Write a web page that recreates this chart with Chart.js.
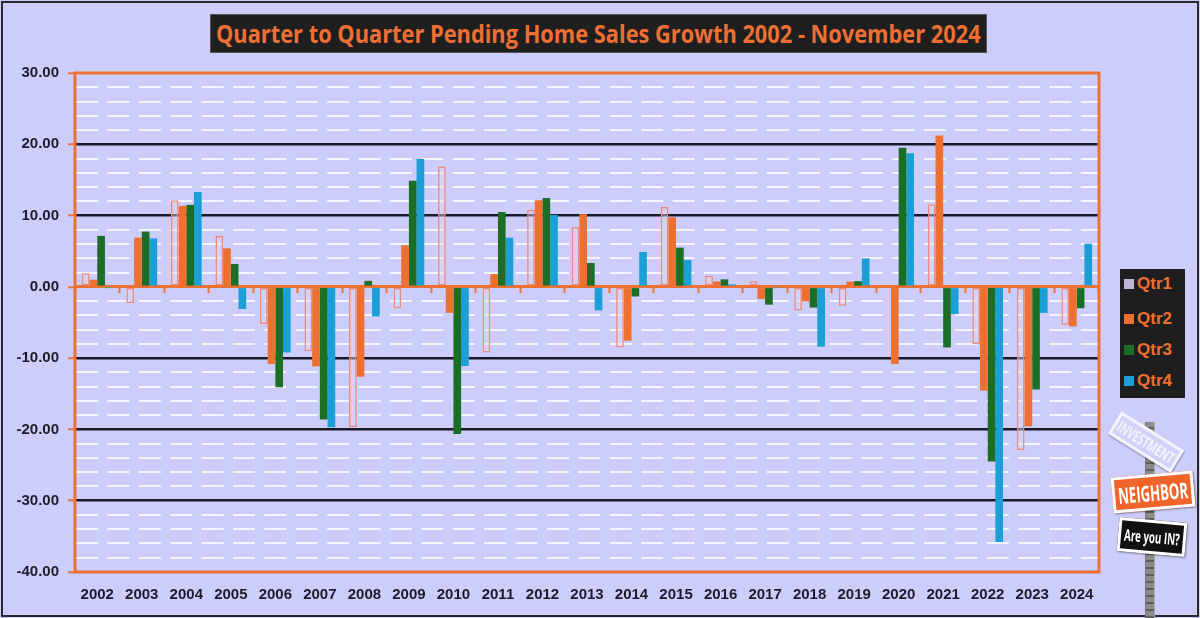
<!DOCTYPE html>
<html>
<head>
<meta charset="utf-8">
<script src="https://cdn.jsdelivr.net/npm/chart.js@4.4.1/dist/chart.umd.min.js"></script>
<style>
  html, body { margin:0; padding:0; }
  body { width:1200px; height:618px; background:#cdcdfb; position:relative; overflow:hidden; font-family: Arial, "Liberation Sans", sans-serif; }
  #frame { position:absolute; left:1px; top:1px; width:1194px; height:612px; border:2px solid #2a2a2a; }
  #wrap { position:absolute; left:0; top:0; width:1200px; height:618px; }
  #title { position:absolute; left:210px; top:14px; width:775px; height:37px; background:#1f1f1f; border:1px solid #555;
           color:#ee6f34; font-family:"Open Sans",Roboto,sans-serif; font-weight:bold;
           font-size:25px; line-height:37px; white-space:nowrap; overflow:hidden; }
  #title span { display:inline-block; transform-origin:0 50%; position:absolute; left:5px; top:0; }
  #legend { position:absolute; left:1120px; top:269px; width:65px; height:129px; background:#1e1e1e; }
  .li { position:absolute; left:4px; height:20px; display:flex; align-items:center; color:#ee6f34; font-weight:bold; font-size:17px; }
  .sq { width:10px; height:10px; margin-right:3px; display:inline-block; }
  #logo { position:absolute; left:1105px; top:410px; width:95px; height:208px; }
  .pole { position:absolute; left:40px; top:12px; width:8px; height:200px; background:repeating-linear-gradient(#8c8c8c 0 5px, #5e5e5e 5px 7px); border-left:1px solid #777; border-right:1px solid #aaa; }
  .sign { position:absolute; overflow:visible; font-family:"Open Sans",Roboto,sans-serif; font-weight:bold; white-space:nowrap; box-shadow:1px 1px 2px rgba(0,0,0,0.4); }
  .sign span { position:absolute; left:50%; top:50%; transform-origin:50% 50%; }
</style>
</head>
<body>
<div id="frame"></div>
<div id="wrap"><canvas id="c" width="1200" height="618"></canvas></div>
<div id="title"><span id="tt">Quarter to Quarter Pending Home Sales Growth 2002 - November 2024</span></div>
<div id="legend"></div>
<div id="logo">
  <div class="pole"></div>
  <div class="sign" data-w="64" style="left:4px;top:19px;width:68px;height:20px;background:#d2d2f6;border:3px solid #f4f4ff;color:#f4f4ff;font-size:16px;transform:rotate(32deg);"><span>INVESTMENT</span></div>
  <div class="sign" data-w="70" style="left:7px;top:64px;width:76px;height:30px;background:#f2652a;border:3px solid #fff;color:#fff;font-size:22px;transform:rotate(-5deg);"><span>NEIGHBOR</span></div>
  <div class="sign" data-w="56" style="left:13px;top:110px;width:62px;height:28px;background:#111;border:3px solid #fff;color:#fff;font-size:16px;transform:rotate(5deg);"><span>Are you IN?</span></div>
</div>
<script>
// ---- Data ----
const years = ['2002','2003','2004','2005','2006','2007','2008','2009','2010','2011','2012','2013','2014','2015','2016','2017','2018','2019','2020','2021','2022','2023','2024'];
const qtr1 = [1.9, -2.3, 12.15, 7.15, -5.2, -9.05, -19.7, -3.0, 16.9, -9.2, 10.8, 8.4, -8.5, 11.2, 1.55, 0.8, -3.3, -2.65, 0.0, 11.6, -8.0, -22.9, -5.3];
const qtr2 = [1.0, 6.9, 11.35, 5.4, -10.8, -11.15, -12.6, 5.85, -3.65, 1.8, 12.15, 10.2, -7.55, 9.75, 0.75, -1.7, -2.05, 0.75, -10.8, 21.25, -14.55, -19.55, -5.55];
const qtr3 = [7.15, 7.75, 11.5, 3.2, -14.1, -18.6, 0.85, 14.9, -20.65, 10.5, 12.45, 3.35, -1.35, 5.5, 1.05, -2.5, -2.9, 0.8, 19.5, -8.5, -24.5, -14.4, -3.0];
const qtr4 = [-0.1, 6.8, 13.3, -3.1, -9.2, -19.7, -4.15, 17.95, -11.1, 6.9, 10.1, -3.3, 4.9, 3.75, 0.35, -0.1, -8.4, 4.0, 18.75, -3.8, -35.8, -3.65, 6.05];
const seriesNames = ['Qtr1','Qtr2','Qtr3','Qtr4'];
const yMin = -40, yMax = 30, yMajor = 10, yMinor = 2;

// ---- Styles ----
const ORANGE = '#ed7030';
const colors = { fill: ['rgba(225,215,245,0.45)', '#ed7030', '#1b6e26', '#1a9fd6'],
                 border: ['#ee8a78', '#ed7030', '#1b6e26', '#1a9fd6'],
                 legend: ['#c2b6d6', '#ed7030', '#1b6e26', '#1a9fd6'] };

// fit title text by horizontal condensing
(function(){ const t=document.getElementById('tt'); const w=t.offsetWidth; const s=765/w;
  t.style.transform='scaleX('+s+')'; })();
// fit sign texts
document.querySelectorAll('.sign').forEach(sg=>{
  const sp=sg.querySelector('span'); const target=+sg.dataset.w; const w=sp.offsetWidth;
  sp.style.transform='translate(-50%,-50%) scaleX('+Math.min(1,target/w)+')';
});

// legend
const lg = document.getElementById('legend');
const lgTops = [5, 40, 71, 102];
seriesNames.forEach((n,i)=>{
  const d=document.createElement('div'); d.className='li'; d.style.top=lgTops[i]+'px';
  d.innerHTML='<span class="sq" style="background:'+colors.legend[i]+'"></span>'+n; lg.appendChild(d);
});

const frame = {
  id:'frame',
  afterDatasetsDraw(chart){
    const {ctx, chartArea:a} = chart;
    ctx.save(); ctx.strokeStyle = ORANGE; ctx.lineWidth = 3;
    ctx.strokeRect(a.left, a.top, a.right-a.left, a.bottom-a.top);
    ctx.restore();
  }
};

const dataArr = [qtr1, qtr2, qtr3, qtr4];
new Chart(document.getElementById('c'), {
  type:'bar',
  data:{
    labels: years,
    datasets: dataArr.map((d,i)=>({
      label: seriesNames[i], data: d, xAxisID:'x', yAxisID:'y',
      backgroundColor: colors.fill[i], borderColor: colors.border[i],
      borderWidth: i===0 ? 1.5 : 0, borderSkipped: false,
      barPercentage: 1.0, categoryPercentage: 0.69
    }))
  },
  options:{
    responsive:false, animation:false, devicePixelRatio:1,
    layout:{ padding:{ left:0, right:101, top:73, bottom:0 } },
    plugins:{ legend:{display:false}, tooltip:{enabled:false} },
    scales:{
      x:{
        position:'bottom',
        grid:{ display:false }, border:{ display:false },
        ticks:{ color:'#1c1c2a', font:{ family:'Arial, "Liberation Sans"', size:15, weight:'bold' }, padding:6, maxRotation:0, autoSkip:false },
        afterFit(s){ s.height = 46; }
      },
      x0:{
        type:'category', labels: years,
        position:{ y:0 },
        grid:{ display:true, drawOnChartArea:false, drawTicks:true, tickLength:5, tickColor:ORANGE, tickWidth:2, offset:true },
        border:{ display:true, color:ORANGE, width:3 },
        ticks:{ display:false }
      },
      y:{
        min:yMin, max:yMax,
        grid:{
          color:(c)=>{ const v=c.tick.value; return (v===0||v===yMin||v===yMax)?'rgba(0,0,0,0)':'#1a1a28'; },
          lineWidth:2.5, drawTicks:true, tickLength:7, tickColor:ORANGE, tickWidth:2
        },
        border:{ display:false },
        ticks:{ stepSize:yMajor, color:'#1c1c2a', font:{ family:'Arial, "Liberation Sans"', size:15, weight:'bold' }, padding:9,
                callback:(v)=>Number(v).toFixed(2) },
        afterFit(s){ s.width = 75; }
      },
      yMinor:{
        min:yMin, max:yMax, position:'left',
        grid:{ color:(c)=>{ const v=c.tick.value; return (v % yMajor === 0)?'rgba(0,0,0,0)':'rgba(250,250,255,0.9)'; },
               lineWidth:2, drawTicks:false },
        border:{ display:false, dash:[22,9.4], dashOffset:-1 },
        ticks:{ display:false, stepSize:yMinor },
        afterFit(s){ s.width = 0; }
      }
    }
  },
  plugins:[frame]
});
</script>
</body>
</html>
